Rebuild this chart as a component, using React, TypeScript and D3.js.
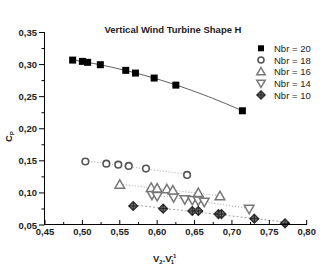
import React from "react";
import * as d3 from "d3";

const xTicks = [0.45, 0.5, 0.55, 0.6, 0.65, 0.7, 0.75, 0.8];
const yTicks = [0.05, 0.1, 0.15, 0.2, 0.25, 0.3, 0.35];

const nbr20X = [0.487, 0.5, 0.507, 0.524, 0.558, 0.571, 0.596, 0.625, 0.714];
const nbr20Y = [0.307, 0.305, 0.3035, 0.2998, 0.291, 0.2868, 0.279, 0.268, 0.228];
const nbr18X = [0.504, 0.532, 0.548, 0.562, 0.585, 0.64];
const nbr18Y = [0.149, 0.1455, 0.144, 0.142, 0.138, 0.128];
const nbr16X = [0.55, 0.592, 0.6, 0.613, 0.621, 0.655, 0.684];
const nbr16Y = [0.113, 0.108, 0.107, 0.106, 0.104, 0.1, 0.095];
const nbr14X = [0.593, 0.6, 0.622, 0.637, 0.647, 0.655, 0.663, 0.723];
const nbr14Y = [0.097, 0.095, 0.093, 0.09, 0.089, 0.088, 0.086, 0.075];
const nbr10X = [0.568, 0.608, 0.647, 0.655, 0.682, 0.686, 0.73, 0.771];
const nbr10Y = [0.0796, 0.0754, 0.0718, 0.0718, 0.067, 0.067, 0.0598, 0.0526];

const legendLabels = ["Nbr = 20", "Nbr = 18", "Nbr = 16", "Nbr = 14", "Nbr = 10"];
const font = "'Liberation Sans', Arial, sans-serif";

function linFit(xs: number[], ys: number[]) {
  const n = xs.length;
  const mx = d3.mean(xs)!;
  const my = d3.mean(ys)!;
  let sxy = 0, sxx = 0;
  for (let i = 0; i < n; i++) {
    sxy += (xs[i] - mx) * (ys[i] - my);
    sxx += (xs[i] - mx) ** 2;
  }
  const b = sxy / sxx;
  return (x: number) => my + b * (x - mx);
}

function quadFit(xs: number[], ys: number[]) {
  // normal equations for y = a + b x + c x^2
  const S = (p: number) => d3.sum(xs, (x) => x ** p);
  const T = (p: number) => d3.sum(xs.map((x, i) => ys[i] * x ** p));
  const A = [
    [xs.length, S(1), S(2)],
    [S(1), S(2), S(3)],
    [S(2), S(3), S(4)],
  ];
  const B = [T(0), T(1), T(2)];
  const det = (m: number[][]) =>
    m[0][0] * (m[1][1] * m[2][2] - m[1][2] * m[2][1]) -
    m[0][1] * (m[1][0] * m[2][2] - m[1][2] * m[2][0]) +
    m[0][2] * (m[1][0] * m[2][1] - m[1][1] * m[2][0]);
  const D = det(A);
  const coef = [0, 1, 2].map((k) => {
    const M = A.map((r, i) => r.map((v, j) => (j === k ? B[i] : v)));
    return det(M) / D;
  });
  return (x: number) => coef[0] + coef[1] * x + coef[2] * x * x;
}

export default function App() {
  const W = 332, H = 266;
  const x = d3.scaleLinear().domain([0.45, 0.8]).range([45, 306.7]);
  const y = d3.scaleLinear().domain([0.05, 0.35]).range([225, 32.5]);

  const fitPath = (f: (v: number) => number, xs: number[]) => {
    const [a, b] = d3.extent(xs) as [number, number];
    const pts = d3.range(0, 41).map((i) => a + ((b - a) * i) / 40);
    return d3.line<number>().x((v) => x(v)).y((v) => y(f(v)))(pts) || "";
  };

  const square = (cx: number, cy: number, s: number, key?: any) => (
    <rect key={key} x={cx - s / 2} y={cy - s / 2} width={s} height={s} fill="#000" />
  );
  const circle = (cx: number, cy: number, r: number, key?: any) => (
    <circle key={key} cx={cx} cy={cy} r={r} fill="#fff" stroke="#555" strokeWidth={1.6} />
  );
  const triUp = (cx: number, cy: number, s: number, key?: any) => (
    <path
      key={key}
      d={`M${cx},${cy - s * 0.6}L${cx + s * 0.6},${cy + s * 0.45}L${cx - s * 0.6},${cy + s * 0.45}Z`}
      fill="#fff"
      stroke="#777"
      strokeWidth={1.5}
    />
  );
  const triDown = (cx: number, cy: number, s: number, key?: any) => (
    <path
      key={key}
      d={`M${cx},${cy + s * 0.6}L${cx + s * 0.6},${cy - s * 0.45}L${cx - s * 0.6},${cy - s * 0.45}Z`}
      fill="#fff"
      stroke="#777"
      strokeWidth={1.5}
    />
  );
  const diamond = (cx: number, cy: number, s: number, key?: any) => (
    <g key={key}>
      <path
        d={`M${cx},${cy - s}L${cx + s},${cy}L${cx},${cy + s}L${cx - s},${cy}Z`}
        fill="#777"
        stroke="#333"
        strokeWidth={1.5}
      />
      <path d={`M${cx - s},${cy}H${cx + s}M${cx},${cy - s}V${cy + s}`} stroke="#222" strokeWidth={1} />
    </g>
  );

  const f20 = quadFit(nbr20X, nbr20Y);
  const f18 = linFit(nbr18X, nbr18Y);
  const f16 = linFit(nbr16X, nbr16Y);
  const f14 = linFit(nbr14X, nbr14Y);
  const f10 = linFit(nbr10X, nbr10Y);

  const xMinor = d3.range(0, 15).map((i) => 0.45 + i * 0.025);
  const yMinor = d3.range(0, 13).map((i) => 0.05 + i * 0.025);

  const legendY = [48.3, 60, 71.7, 83.3, 95];
  const legendSyms = [
    square(261, legendY[0], 6),
    circle(261, legendY[1], 3),
    triUp(261, legendY[2], 7),
    triDown(261, legendY[3], 7),
    diamond(261, legendY[4], 4),
  ];

  return (
    <svg width={W} height={H} style={{ position: "absolute", left: 0, top: 0, background: "#fff" }}>
      <rect width={W} height={H} fill="#fff" />
      {/* fit lines */}
      <path d={fitPath(f20, nbr20X)} fill="none" stroke="#333" strokeWidth={0.8} />
      <path d={fitPath(f18, nbr18X)} fill="none" stroke="#888" strokeWidth={0.8} strokeDasharray="1,2" />
      <path d={fitPath(f16, nbr16X)} fill="none" stroke="#888" strokeWidth={0.8} strokeDasharray="1,2" />
      <path d={fitPath(f14, nbr14X)} fill="none" stroke="#888" strokeWidth={0.8} strokeDasharray="1,2" />
      <path d={fitPath(f10, nbr10X)} fill="none" stroke="#888" strokeWidth={0.8} strokeDasharray="2,2" />

      {/* markers */}
      {nbr18X.map((v, i) => circle(x(v), y(nbr18Y[i]), 3.3, "c" + i))}
      {nbr14X.map((v, i) => triDown(x(v), y(nbr14Y[i]), 8, "d" + i))}
      {nbr16X.map((v, i) => triUp(x(v), y(nbr16Y[i]), 8, "u" + i))}
      {nbr10X.map((v, i) => diamond(x(v), y(nbr10Y[i]), 4.3, "m" + i))}
      {nbr20X.map((v, i) => square(x(v), y(nbr20Y[i]), 7, "s" + i))}

      {/* axes */}
      <line x1={44.5} x2={44.5} y1={32} y2={225} stroke="#000" strokeWidth={1} />
      <line x1={44.5} x2={307} y1={224.5} y2={224.5} stroke="#000" strokeWidth={1} />
      {yMinor.map((v, i) => (
        <line key={"ym" + i} x1={i % 2 === 0 ? 39 : 41.5} x2={44.5} y1={y(v)} y2={y(v)} stroke="#000" strokeWidth={1} />
      ))}
      {xMinor.map((v, i) => (
        <line key={"xm" + i} x1={x(v)} x2={x(v)} y1={224.5} y2={i % 2 === 0 ? 220 : 222} stroke="#000" strokeWidth={1} />
      ))}
      {yTicks.map((v) => (
        <text key={"yt" + v} x={37} y={y(v) + 3.5} textAnchor="end" fontFamily={font} fontSize={9.5} fontWeight="bold" fill="#222">
          {d3.format(".2f")(v).replace(".", ",")}
        </text>
      ))}
      {xTicks.map((v) => (
        <text key={"xt" + v} x={x(v)} y={235} textAnchor="middle" fontFamily={font} fontSize={9.5} fontWeight="bold" fill="#222">
          {d3.format(".2f")(v).replace(".", ",")}
        </text>
      ))}

      {/* title */}
      <text x={173} y={33} textAnchor="middle" fontFamily={font} fontSize={9.5} fontWeight="bold" fill="#222">
        Vertical Wind Turbine Shape H
      </text>

      {/* axis titles */}
      <text x={153} y={262} fontFamily={font} fontSize={9.5} fontWeight="bold" fill="#222">
        V<tspan fontSize={6} dy={2}>2</tspan>
        <tspan dy={-2}>.V</tspan>
        <tspan fontSize={6} dy={2} dx={-1}>1</tspan>
        <tspan fontSize={6} dy={-6} dx={-3}>-1</tspan>
      </text>
      <text transform="translate(12,142) rotate(-90)" fontFamily={font} fontSize={9.5} fontWeight="bold" fill="#222">
        C<tspan fontSize={6} dy={2}>P</tspan>
      </text>

      {/* legend */}
      {legendSyms}
      {legendLabels.map((t, i) => (
        <text key={"lg" + i} x={274} y={legendY[i] + 3.5} fontFamily={font} fontSize={9.5} fill="#222">
          {t}
        </text>
      ))}
    </svg>
  );
}
